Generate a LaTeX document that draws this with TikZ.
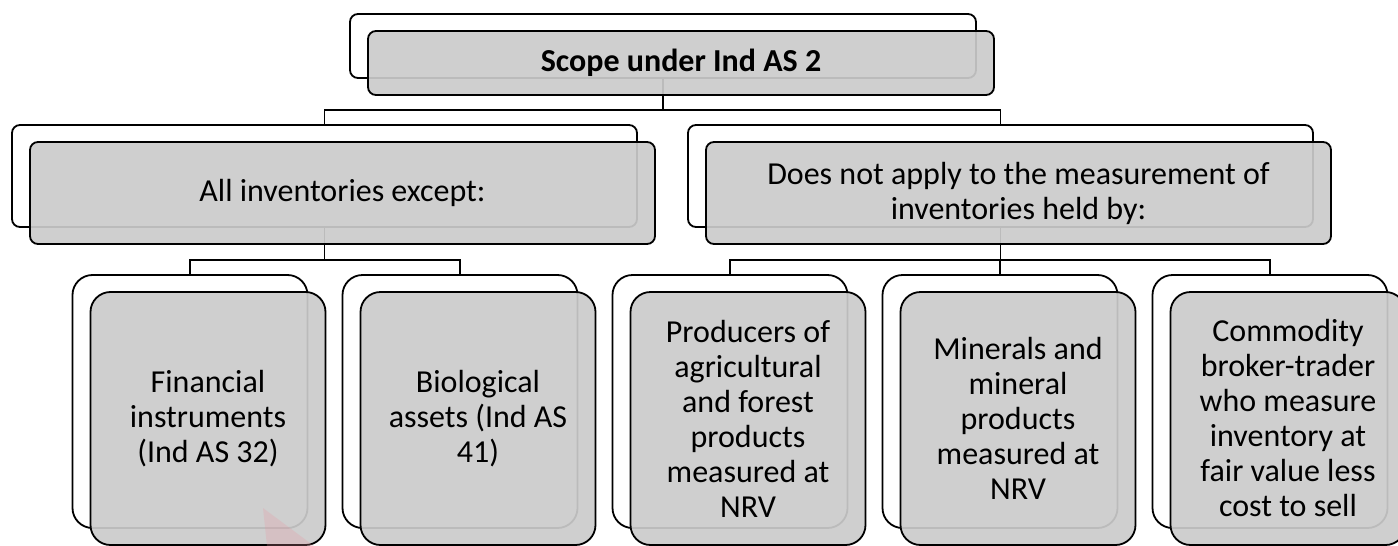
\documentclass[tikz,border=0pt]{standalone}
\usepackage{fontspec}
\setmainfont{Carlito}
\definecolor{boxgray}{RGB}{203,203,203}
\definecolor{blushpink}{RGB}{232,150,160}
\begin{document}
\begin{tikzpicture}[x=1pt,y=-1pt,
  every node/.style={inner sep=0pt,outer sep=0pt},
  backbox/.style={draw=black,line width=1.8pt,fill=white},
  frontbox/.style={draw=black,line width=1.8pt,fill=boxgray,fill opacity=0.92,text opacity=1,
    align=center,font=\fontsize{32}{35}\selectfont},
  topsize/.style={minimum width=626pt,minimum height=64pt,rounded corners=8pt},
  midsize/.style={minimum width=625pt,minimum height=102pt,rounded corners=8pt},
  lowsize/.style={minimum width=235pt,minimum height=253pt,rounded corners=20pt},
  link/.style={draw=black,line width=1.8pt}]
\clip (0,0) rectangle (1398,546);
\fill[white] (0,0) rectangle (1398,546);

% back layer of every card
\node[backbox,topsize] (b0) at (663,46) {};
\node[backbox,midsize] (bL) at (324.5,176) {};
\node[backbox,midsize] (bR) at (1000.5,176) {};
\node[backbox,lowsize] (b1) at (190,401.5) {};
\node[backbox,lowsize] (b2) at (460,401.5) {};
\node[backbox,lowsize] (b3) at (730,401.5) {};
\node[backbox,lowsize] (b4) at (1000,401.5) {};
\node[backbox,lowsize] (b5) at (1270,401.5) {};

% tree connectors
\coordinate (j0) at (663,110);
\coordinate (jL) at (324.5,260);
\coordinate (jR) at (1000.5,260);
\draw[link] (b0.south) -- (j0);
\draw[link] (j0) -| (bL.north);
\draw[link] (j0) -| (bR.north);
\draw[link] (bL.south) -- (jL);
\draw[link] (jL) -| (b1.north);
\draw[link] (jL) -| (b2.north);
\draw[link] (bR.south) -- (jR);
\draw[link] (jR) -| (b3.north);
\draw[link] (jR) -| (b4.north);
\draw[link] (jR) -| (b5.north);

% front layer with the texts
\node[frontbox,topsize] (f0) at (681,63) {\textbf{Scope under Ind AS 2}};
\node[frontbox,midsize] (fL) at (342.5,193) {All inventories except:};
\node[frontbox,midsize] (fR) at (1018.5,193) {Does not apply to the measurement of\\inventories held by:};
\node[frontbox,lowsize] (f1) at (208,418.5) {Financial\\instruments\\(Ind AS 32)};
\node[frontbox,lowsize] (f2) at (478,418.5) {Biological\\assets (Ind AS\\41)};
\node[frontbox,lowsize] (f3) at (748,418.5) {Producers of\\agricultural\\and forest\\products\\measured at\\NRV};
\node[frontbox,lowsize] (f4) at (1018,418.5) {Minerals and\\mineral\\products\\measured at\\NRV};
\node[frontbox,lowsize] (f5) at (1288,418.5) {Commodity\\broker-trader\\who measure\\inventory at\\fair value less\\cost to sell};

% faint pink wedge at the lower edge
\fill[blushpink,opacity=0.25] (263,508) -- (314,546) -- (267,546) -- cycle;
\end{tikzpicture}
\end{document}
